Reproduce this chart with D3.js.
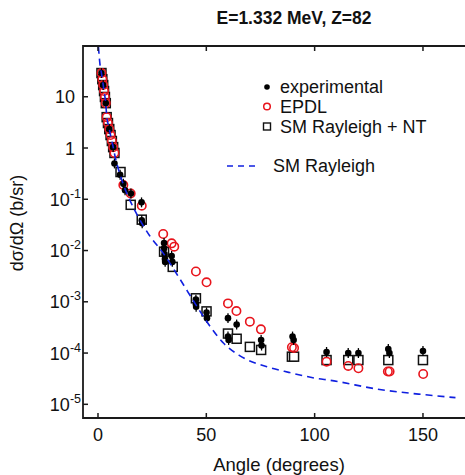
<!DOCTYPE html>
<html><head><meta charset="utf-8">
<script src="https://cdn.jsdelivr.net/npm/d3@7"></script>
<style>body{margin:0;background:#fff}svg{display:block}text{font-family:"Liberation Sans",Arial,sans-serif;fill:#111}</style>
</head><body>
<svg id="c" width="465" height="475"></svg>
<script>
const titleText = "E=1.332 MeV, Z=82";
const xTicks = [0, 50, 100, 150];
const yTickExp = [1, 0, -1, -2, -3, -4, -5];

const expAngle = [1.6,2.4,3.6,5.2,7.0,
  7.6,10.2,11.7,12.5,15.2,20.1,20.2,20.4,
  30.5,30.5,30.7,30.9,31.0,34.0,34.3,
  45.2,45.2,45.3,50.1,50.3,60.0,60.0,60.3,64.0,75.3,75.5,89.8,90.3,
  105.5,115.5,120.2,134.0,134.5,150.0];
const expValue = [29,16.9,7.5,2.34,1.04,
  0.5,0.3,0.2,0.15,0.13,0.087,0.039,0.034,
  0.014,0.011,0.0085,0.0068,0.006,0.0078,0.006,
  0.0011,0.0009,0.0008,0.00062,0.00048,0.00048,0.00021,0.00018,0.00036,0.00018,0.00014,0.00021,0.00018,
  0.000105,0.0001,0.0001,0.00012,0.0001,0.00011];

const epdlAngle = [1.6,2.0,2.4,2.8,3.2,3.6,4.0,4.6,5.2,5.8,6.4,7.0,7.6,
  11.7,15.1,20.2,30.1,34.0,35.2,45.2,50.1,60.0,63.9,70.1,75.2,89.5,90.5,
  105.5,115.5,120.2,133.8,134.6,150.1];
const epdlValue = [29,22,16.9,12.9,9.9,7.5,4.0,3.07,2.34,1.79,1.37,1.04,0.8,
  0.19,0.13,0.075,0.021,0.0138,0.0119,0.0039,0.0024,0.00093,0.00066,0.00041,0.00029,0.00013,0.000125,
  0.000068,0.000056,0.0000505,0.0000437,0.0000437,0.000039];

const smntAngle = [1.6,2.0,2.4,2.8,3.2,3.6,4.0,4.6,5.2,5.8,6.4,7.0,7.6,
  10.4,15.1,20.2,30.5,34.5,45.2,50.1,60.0,64.0,70.1,75.3,89.5,90.5,
  105.5,115.5,120.2,134.0,150.0];
const smntValue = [29,22,16.9,12.9,9.9,7.5,4.0,3.07,2.34,1.79,1.37,1.04,0.8,
  0.34,0.078,0.04,0.0095,0.0048,0.00117,0.00065,0.00024,0.00019,0.000132,0.000115,0.000085,0.000085,
  0.000073,0.000073,0.000073,0.000073,0.000073];

const smAngle = [0.2,1.0,1.6,2.4,3.2,3.6,4.0,5.0,6.0,7.0,8.0,10,12,15,18.5,24,30,38,45,52,58,65,78,88,101,107,130,150,165];
const smValue = [95,40,29,17,9.9,7.5,4.2,2.6,1.6,1.05,0.65,0.32,0.18,0.09,0.046,0.019,0.009,0.0027,0.0009,0.00032,0.000155,0.000091,0.000054,0.000042,0.000032,0.0000295,0.0000195,0.0000155,0.0000135];

const legendLabels = ["experimental", "EPDL", "SM Rayleigh + NT", "SM Rayleigh"];

const svg = d3.select("#c");
const L = 83, R = 465, T = 46, B = 418;
const x = d3.scaleLinear().domain([-6.92, 169.4]).range([L, R]);
const y = d3.scaleLog().domain([Math.pow(10, -5.267), Math.pow(10, 1.99)]).range([B, T]);

svg.append("defs").append("clipPath").attr("id", "clip")
  .append("rect").attr("x", L).attr("y", T).attr("width", R - L + 5).attr("height", B - T);

const plot = svg.append("g").attr("clip-path", "url(#clip)");

// squares
plot.selectAll("rect.sq").data(smntAngle.map((a, i) => [a, smntValue[i]])).join("rect")
  .attr("x", d => x(d[0]) - 4.5).attr("y", d => y(d[1]) - 4.5)
  .attr("width", 9).attr("height", 9)
  .attr("fill", "#fff").attr("stroke", "#111").attr("stroke-width", 1.5);

// EPDL circles
plot.selectAll("circle.ep").data(epdlAngle.map((a, i) => [a, epdlValue[i]])).join("circle")
  .attr("cx", d => x(d[0])).attr("cy", d => y(d[1])).attr("r", 4.2)
  .attr("fill", "none").attr("stroke", "#e8141c").attr("stroke-width", 1.6);

// experimental error bars + dots
const expData = expAngle.map((a, i) => [a, expValue[i]]);
plot.selectAll("line.err").data(expData).join("line")
  .attr("x1", d => x(d[0])).attr("x2", d => x(d[0]))
  .attr("y1", d => y(d[1] * 1.25)).attr("y2", d => y(d[1] / 1.25))
  .attr("stroke", "#000").attr("stroke-width", 1.3);
plot.selectAll("circle.ex").data(expData).join("circle")
  .attr("cx", d => x(d[0])).attr("cy", d => y(d[1])).attr("r", 3.3)
  .attr("fill", "#000");

// SM Rayleigh dashed curve (drawn on top)
const smData = smAngle.map((a, i) => [a, smValue[i]]);
plot.append("path").datum(smData)
  .attr("d", d3.line().x(d => x(d[0])).y(d => y(d[1])).curve(d3.curveMonotoneX))
  .attr("fill", "none").attr("stroke", "#1020e0").attr("stroke-width", 1.6)
  .attr("stroke-dasharray", "7,5");

// frame
const frame = svg.append("g").attr("stroke", "#1a1a1a").attr("stroke-width", 1.8).attr("fill", "none");
frame.append("path").attr("d", `M${R + 3},${T}H${L}V${B}H${R + 3}`);

// x ticks
const tickLen = 5;
xTicks.forEach(v => {
  svg.append("line").attr("x1", x(v)).attr("x2", x(v)).attr("y1", B).attr("y2", B - tickLen)
    .attr("stroke", "#1a1a1a").attr("stroke-width", 1.5);
  svg.append("line").attr("x1", x(v)).attr("x2", x(v)).attr("y1", T).attr("y2", T + tickLen)
    .attr("stroke", "#1a1a1a").attr("stroke-width", 1.5);
  svg.append("text").attr("x", x(v)).attr("y", 441).attr("text-anchor", "middle")
    .attr("font-size", 18).text(v);
});

// y ticks
yTickExp.forEach(e => {
  const yy = y(Math.pow(10, e));
  svg.append("line").attr("x1", L).attr("x2", L + tickLen).attr("y1", yy).attr("y2", yy)
    .attr("stroke", "#1a1a1a").attr("stroke-width", 1.5);
  if (e === 1 || e === 0) {
    svg.append("text").attr("x", 75).attr("y", yy + 6.5).attr("text-anchor", "end")
      .attr("font-size", 18).text(e === 1 ? "10" : "1");
  } else {
    const t = svg.append("text").attr("x", 81).attr("y", yy + 6.5).attr("text-anchor", "end")
      .attr("font-size", 18);
    t.append("tspan").text("10");
    t.append("tspan").attr("font-size", 12.5).attr("dy", -8).text(String(e));
  }
});

// axis titles
svg.append("text").attr("x", 279).attr("y", 471).attr("text-anchor", "middle")
  .attr("font-size", 18.5).text("Angle (degrees)");
svg.append("text").attr("transform", "translate(23,223) rotate(-90)").attr("text-anchor", "middle")
  .attr("font-size", 18).text("dσ/dΩ  (b/sr)");

// title
svg.append("text").attr("x", 294).attr("y", 24).attr("text-anchor", "middle")
  .attr("font-size", 17.5).attr("font-weight", "bold").text(titleText);

// legend
const lx = 267, tx = 280;
svg.append("circle").attr("cx", lx).attr("cy", 87).attr("r", 2.8).attr("fill", "#000");
svg.append("circle").attr("cx", lx).attr("cy", 106.5).attr("r", 3.3).attr("fill", "none")
  .attr("stroke", "#e8141c").attr("stroke-width", 1.5);
svg.append("rect").attr("x", lx - 3.5).attr("y", 123).attr("width", 7).attr("height", 7)
  .attr("fill", "none").attr("stroke", "#111").attr("stroke-width", 1.4);
svg.append("line").attr("x1", 227).attr("x2", 259).attr("y1", 166).attr("y2", 166)
  .attr("stroke", "#1020e0").attr("stroke-width", 1.6).attr("stroke-dasharray", "6,5");
[[87, 0], [107, 1], [127, 2]].forEach(([yy, i]) => {
  svg.append("text").attr("x", tx).attr("y", yy + 6.3).attr("font-size", 18).text(legendLabels[i]);
});
svg.append("text").attr("x", 273).attr("y", 172.3).attr("font-size", 18).text(legendLabels[3]);
</script>
</body></html>
